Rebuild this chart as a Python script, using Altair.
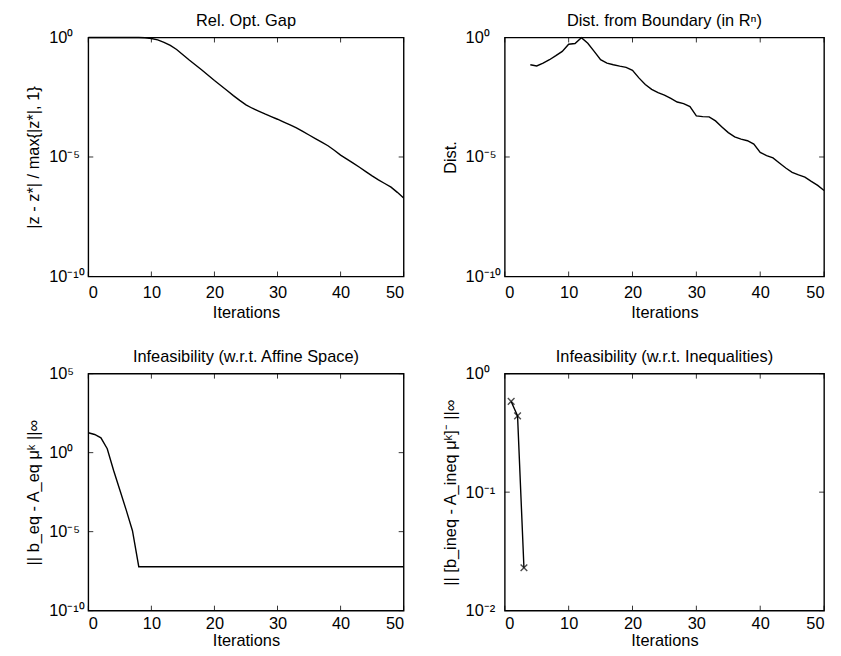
import altair as alt
import pandas as pd

# ---------------- data (log10 values) ----------------
gap_iter = list(range(0, 51))
gap_exp = [-0.002, -0.002, -0.002, -0.002, -0.002, -0.002, -0.002, -0.002, -0.002, -0.008,
           -0.04, -0.10, -0.20, -0.33, -0.50, -0.72, -0.94, -1.15, -1.36, -1.58,
           -1.80, -2.01, -2.22, -2.43, -2.63, -2.82, -2.96, -3.08, -3.20, -3.31,
           -3.42, -3.54, -3.66, -3.78, -3.93, -4.08, -4.23, -4.38, -4.53, -4.72,
           -4.92, -5.09, -5.26, -5.43, -5.61, -5.79, -5.96, -6.11, -6.26, -6.48,
           -6.72]

dist_iter = list(range(4, 51))
dist_exp = [-1.14, -1.19, -1.07, -0.93, -0.76, -0.58, -0.28, -0.25, -0.01, -0.24,
            -0.58, -0.93, -1.07, -1.14, -1.20, -1.25, -1.37, -1.69, -1.97, -2.17,
            -2.31, -2.41, -2.55, -2.70, -2.77, -2.89, -3.28, -3.31, -3.32, -3.49,
            -3.74, -3.98, -4.16, -4.25, -4.32, -4.46, -4.81, -4.94, -5.04, -5.25,
            -5.46, -5.64, -5.75, -5.84, -6.02, -6.19, -6.40]

aff_iter = list(range(0, 51))
aff_exp = [1.26, 1.15, 0.94, 0.25, -1.11, -2.36, -3.62, -4.94] + [-7.22] * 43

ineq_iter = [1, 2, 3]
ineq_val = [0.583, 0.44, 0.023]

x_ticks = [0, 10, 20, 30, 40, 50]
y_ticks_1 = [1e-10, 1e-5, 1]
y_ticks_3 = [1e-10, 1e-5, 1, 1e5]
y_ticks_4 = [0.01, 0.1, 1]

titles = ["Rel. Opt. Gap", "Dist. from Boundary (in Rⁿ)",
          "Infeasibility (w.r.t. Affine Space)", "Infeasibility (w.r.t. Inequalities)"]
ytitles = ["|z - z*| / max{|z*|, 1}", "Dist.",
           "|| b_eq - A_eq μᵏ ||∞", "|| [b_ineq - A_ineq μᵏ]⁻ ||∞"]

FONT = "Liberation Sans"
FS = 16.5
SUP = "⁰¹²³⁴⁵⁶⁷⁸⁹"
E = "round(log(datum.value)/LN10)"
label_expr = (
    f"'10' + ({E} < 0 ? '⁻' : '') + "
    f"(abs({E}) >= 10 ? substring('{SUP}', floor(abs({E})/10), floor(abs({E})/10)+1) : '') + "
    f"substring('{SUP}', abs({E}) % 10, abs({E}) % 10 + 1)"
)


def panel(df, title, ytitle, ydomain, yticks, W, H, xlp, xtp, points=False):
    xs = alt.Scale(domain=[0, 50], nice=False, zero=False)
    ys = alt.Scale(type="log", domain=ydomain, nice=False)
    xenc = alt.X("x:Q", scale=xs,
                 axis=alt.Axis(title="Iterations", values=x_ticks, labelPadding=xlp,
                               titlePadding=xtp))
    yenc = alt.Y("y:Q", scale=ys,
                 axis=alt.Axis(title=ytitle, values=yticks, labelExpr=label_expr,
                               labelAlign="left", labelPadding=40, titlePadding=7,
                               labelBaseline="middle"))
    line = alt.Chart(df).mark_line(color="black", strokeWidth=1.4).encode(x=xenc, y=yenc)
    layers = [line]
    if points:
        layers.append(alt.Chart(df).mark_point(
            shape="M-1,-1L1,1M-1,1L1,-1", size=45, color="black", filled=False,
            strokeWidth=1.4).encode(x=xenc, y=yenc))
    xt = pd.DataFrame({"x": x_ticks})
    yt = pd.DataFrame({"y": yticks})
    tick = dict(color="black", strokeWidth=0.8)
    layers += [
        alt.Chart(xt).mark_rule(**tick).encode(x=xenc, y=alt.value(H), y2=alt.value(H - 5)),
        alt.Chart(xt).mark_rule(**tick).encode(x=xenc, y=alt.value(0), y2=alt.value(5)),
        alt.Chart(yt).mark_rule(**tick).encode(y=yenc, x=alt.value(0), x2=alt.value(5)),
        alt.Chart(yt).mark_rule(**tick).encode(y=yenc, x=alt.value(W - 5), x2=alt.value(W)),
    ]
    return alt.layer(*layers).properties(
        width=W, height=H,
        title=alt.TitleParams(title, fontSize=FS, font=FONT, fontWeight="normal",
                              color="black", offset=0))


df1 = pd.DataFrame({"x": gap_iter, "y": [10 ** e for e in gap_exp]})
df2 = pd.DataFrame({"x": dist_iter, "y": [10 ** e for e in dist_exp]})
df3 = pd.DataFrame({"x": aff_iter, "y": [10 ** e for e in aff_exp]})
df4 = pd.DataFrame({"x": ineq_iter, "y": ineq_val})

p1 = panel(df1, titles[0], ytitles[0], [1e-10, 1], y_ticks_1, 318, 241, 8, 4)
p2 = panel(df2, titles[1], ytitles[1], [1e-10, 1], y_ticks_1, 322, 241, 8, 4)
p3 = panel(df3, titles[2], ytitles[2], [1e-10, 1e5], y_ticks_3, 318, 239, 5, 1)
p4 = panel(df4, titles[3], ytitles[3], [0.01, 1], y_ticks_4, 322, 239, 5, 1, points=True)

chart = alt.concat(p1, p2, p3, p4, columns=2, spacing={"row": 98, "column": 102}).properties(
    bounds="flush",
    background="white",
    padding={"left": 17, "top": 1, "right": 5, "bottom": 5},
).configure_view(stroke="black", strokeWidth=1.4).configure_axis(
    domain=False, ticks=False, tickSize=0, grid=False,
    labelFont=FONT, labelFontSize=FS, labelColor="black",
    titleFont=FONT, titleFontSize=FS, titleFontWeight="normal", titleColor="black",
)

chart.save("out.html", embed_options={"renderer": "svg", "actions": False})
